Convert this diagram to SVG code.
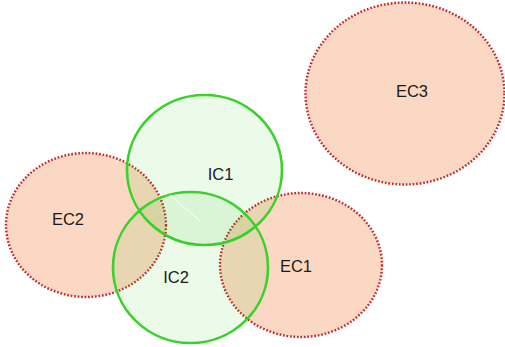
<svg xmlns="http://www.w3.org/2000/svg" width="505" height="347" viewBox="0 0 505 347">
<style>
.ec{fill:#fbd8c3;stroke:#c4262b;stroke-width:2.4;stroke-dasharray:1.7 1.8}
.ic{fill:#27c814;fill-opacity:0.09;stroke:#39d12a;stroke-width:2.6}
.t{font-family:"Liberation Sans",Arial,sans-serif;font-size:16.5px;fill:#1a1a1a;text-anchor:middle}
</style>
<rect width="505" height="347" fill="#ffffff"/>
<g id="EC2"><ellipse class="ec" cx="86" cy="225" rx="80" ry="72"/><text class="t" x="68" y="225">EC2</text></g>
<g id="EC1"><ellipse class="ec" cx="301" cy="265" rx="81" ry="72"/><text class="t" x="296" y="272">EC1</text></g>
<g id="EC3"><ellipse class="ec" cx="405" cy="93.5" rx="99.5" ry="91"/><text class="t" x="412" y="97">EC3</text></g>
<g id="IC1"><ellipse class="ic" cx="204.5" cy="170" rx="77.5" ry="75"/><text class="t" x="220.5" y="180">IC1</text></g>
<g id="IC2"><ellipse class="ic" cx="190.5" cy="267.5" rx="77.5" ry="75.5"/><text class="t" x="176" y="283">IC2</text></g>
<g id="connectors"><line x1="170" y1="195" x2="200" y2="221" stroke="#ffffff" stroke-width="1.2" stroke-opacity="0.6"/></g>
</svg>
